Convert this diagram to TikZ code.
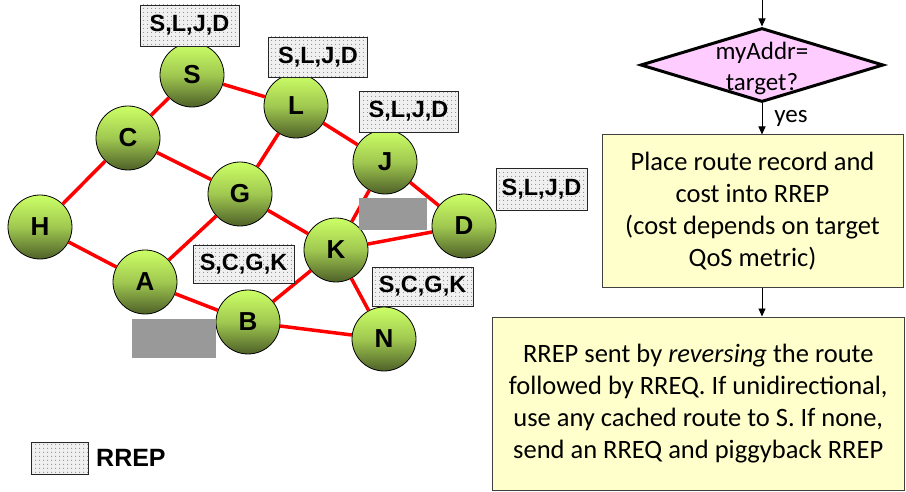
\documentclass[tikz,border=0pt]{standalone}
\usepackage{fontspec}
\setmainfont{Carlito}
\setsansfont{Liberation Sans}
\usetikzlibrary{shapes.geometric,patterns.meta,arrows.meta}
\definecolor{nodetop}{RGB}{204,255,102}
\definecolor{nodemid}{RGB}{160,200,80}
\definecolor{nodebot}{RGB}{78,96,40}
\definecolor{decpink}{RGB}{255,204,255}
\definecolor{boxyellow}{RGB}{255,255,204}
\definecolor{hidegray}{RGB}{153,153,153}
\definecolor{labelbg}{RGB}{240,240,240}
\begin{document}
\begin{tikzpicture}[x=1pt,y=-1pt,
  peer/.style={circle, draw=black, line width=0.8pt, minimum size=64pt, inner sep=0pt,
    top color=nodetop, bottom color=nodebot, middle color=nodemid,
    font=\sffamily\bfseries\fontsize{26}{26}\selectfont},
  link/.style={red, line width=3.5pt},
  rrep/.style={draw=black!85, line width=0.8pt, preaction={fill=labelbg},
    pattern={Dots[distance=4pt,radius=0.6pt]}, pattern color=black!60,
    inner sep=0pt, font=\sffamily\bfseries\fontsize{23.5}{24}\selectfont},
  hide/.style={fill=hidegray, draw=none, inner sep=0pt},
  flow/.style={-{Triangle[length=8pt,width=7pt]}, line width=0.9pt},
  stepbox/.style={draw=black!75, line width=1pt, fill=boxyellow, align=center,
    inner sep=0pt, font=\fontsize{26.5}{32}\selectfont},
  decision/.style={diamond, draw=black, line width=3pt, fill=decpink,
    minimum width=243pt, minimum height=74pt, inner sep=0pt},
]
% canvas
\fill[white] (0,0) rectangle (906,492);
\useasboundingbox (0,0) rectangle (906,492);

% network peers
\node[peer] (S) at (192,75)  {S};
\node[peer] (L) at (296,106) {L};
\node[peer] (C) at (128,138) {C};
\node[peer] (G) at (240,194) {G};
\node[peer] (J) at (385,162) {J};
\node[peer] (H) at (40,227)  {H};
\node[peer] (D) at (464,226) {D};
\node[peer] (K) at (336,250) {K};
\node[peer] (A) at (145,282) {A};
\node[peer] (B) at (248,322) {B};
\node[peer] (N) at (384,339) {N};

% wireless links
\draw[link] (S) -- (C);
\draw[link] (S) -- (L);
\draw[link] (L) -- (G);
\draw[link] (L) -- (J);
\draw[link] (C) -- (G);
\draw[link] (C) -- (H);
\draw[link] (H) -- (A);
\draw[link] (A) -- (G);
\draw[link] (A) -- (B);
\draw[link] (G) -- (K);
\draw[link] (J) -- (K);
\draw[link] (J) -- (D);
\draw[link] (K) -- (D);
\draw[link] (K) -- (B);
\draw[link] (K) -- (N);
\draw[link] (B) -- (N);

% obstacles
\node[hide, minimum width=68pt, minimum height=32pt] (wall1) at (393,214) {};
\node[hide, minimum width=84pt, minimum height=39pt] (wall2) at (174,338.5) {};

% route records carried in RREP
\node[rrep, minimum width=99pt, minimum height=41pt] (recS) at (189.5,25.5) {S,L,J,D};
\node[rrep, minimum width=99pt, minimum height=40pt] (recL) at (318,57) {S,L,J,D};
\node[rrep, minimum width=99pt, minimum height=41pt] (recJ) at (408.5,111.5) {S,L,J,D};
\node[rrep, minimum width=91pt, minimum height=42pt] (recD) at (541.5,189) {S,L,J,D};
\node[rrep, minimum width=101pt, minimum height=38pt] (recB) at (243.5,264) {S,C,G,K};
\node[rrep, minimum width=101pt, minimum height=39pt] (recN) at (422.5,286.5) {S,C,G,K};

% legend
\node[rrep, minimum width=57pt, minimum height=32pt] (key) at (59.5,458) {};
\node[anchor=west, inner sep=0pt, font=\sffamily\bfseries\fontsize{25}{25}\selectfont] (keytext) at (96,458) {RREP};

% flowchart
\coordinate (entry) at (762,0);
\node[decision] (dec) at (762,65) {};
\node[align=center, inner sep=0pt, font=\fontsize{25}{31}\selectfont] (dectext) at (762,68) {myAddr=\\target?};
\node[stepbox, minimum width=301pt, minimum height=152pt] (b1) at (752.5,211)
  {Place route record and\\cost into RREP\\(cost depends on target\\QoS metric)};
\node[stepbox, minimum width=412.5pt, minimum height=173.5pt] (b2) at (698.25,403.75)
  {RREP sent by \textit{reversing} the route\\followed by RREQ. If unidirectional,\\use any cached route to S. If none,\\send an RREQ and piggyback RREP};

\draw[flow] (entry) -- (dec.north);
\draw[flow] (dec.south) -- (dec.south |- b1.north);
\node[inner sep=0pt, font=\fontsize{25}{25}\selectfont] (yes) at (791,118) {yes};
\draw[flow] (dec.south |- b1.south) -- (dec.south |- b2.north);
\end{tikzpicture}
\end{document}
